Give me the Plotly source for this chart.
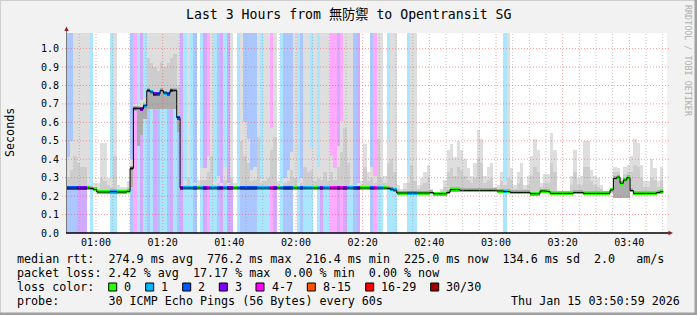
import plotly.graph_objects as go
from datetime import datetime, timedelta

# ---------------- data (one value per 60 s step) ----------------
# loss class: 0 -> 0, 1 -> 1, 2 -> 2, 3 -> 3, 4 -> 4-7
loss = [
    2, 2, 2, 3, 3, 3, 0, 1, 0, 0,
    0, 0, 0, 1, 1, 0, 0, 0, 0, 2,
    4, 1, 3, 1, 2, 1, 3, 2, 1, 1,
    2, 3, 1, 2, 3, 1, 1, 1, 2, 0,
    1, 3, 4, 1, 1, 2, 3, 1, 3, 3,
    0, 1, 2, 2, 2, 2, 2, 1, 1, 1,
    1, 4, 3, 0, 1, 2, 2, 2, 0, 1,
    2, 1, 1, 1, 0, 1, 3, 1, 1, 4,
    4, 3, 4, 3, 1, 1, 2, 3, 0, 0,
    0, 2, 4, 1, 1, 0, 1, 1, 1, 0,
    0, 0, 1, 1, 1, 0, 0, 0, 0, 0,
    0, 0, 0, 0, 0, 0, 0, 0, 0, 0,
    0, 0, 0, 0, 0, 0, 0, 0, 0, 0,
    0, 1, 0, 0, 0, 0, 0, 0, 0, 0,
    0, 0, 0, 0, 0, 0, 0, 0, 0, 0,
    0, 0, 0, 0, 0, 0, 0, 0, 0, 0,
    0, 0, 0, 0, 0, 0, 0, 0, 0, 0,
    0, 0, 0, 0, 0, 0, 0, 0, 0, 0,
]

median = [
    .244, .244, .244, .244, .244, .244, .244, .242, .236, .222,
    .222, .222, .222, .224, .224, .222, .222, .222, .226, .350,
    .676, .676, .672, .690, .772, .765, .752, .755, .772, .760,
    .755, .772, .773, .625, .244, .244, .244, .244, .244, .244,
    .244, .244, .244, .244, .244, .244, .244, .244, .244, .244,
    .244, .244, .244, .244, .244, .244, .244, .244, .244, .244,
    .244, .244, .244, .244, .244, .244, .244, .244, .244, .244,
    .244, .244, .244, .244, .244, .244, .244, .244, .244, .244,
    .244, .244, .244, .244, .244, .244, .244, .244, .244, .244,
    .244, .244, .244, .244, .244, .244, .242, .238, .232, .217,
    .217, .217, .217, .217, .217, .217, .217, .217, .217, .219,
    .213, .213, .213, .213, .220, .235, .235, .235, .231, .231,
    .231, .231, .231, .231, .231, .231, .231, .231, .231, .228,
    .228, .225, .225, .220, .220, .220, .220, .220, .220, .213,
    .213, .213, .228, .228, .225, .215, .215, .215, .215, .215,
    .215, .215, .219, .219, .219, .215, .215, .215, .215, .215,
    .215, .215, .215, .233, .296, .303, .270, .287, .300, .230,
    .215, .215, .215, .215, .215, .215, .215, .220, .224, None,
]

smoke_lo = [
    .240, .240, .240, .240, .240, .240, .240, .238, .232, .218,
    .218, .218, .218, .220, .220, .218, .218, .218, .222, .250,
    .660, .470, .530, .620, .670, .670, .670, .670, .670, .670,
    .670, .670, .670, .550, .240, .240, .240, .240, .240, .240,
    .240, .240, .240, .240, .240, .240, .240, .240, .240, .240,
    .240, .240, .240, .240, .240, .240, .240, .240, .240, .240,
    .240, .240, .240, .240, .240, .240, .240, .240, .240, .240,
    .240, .240, .240, .240, .240, .240, .240, .240, .240, .240,
    .240, .240, .240, .240, .240, .240, .240, .240, .240, .240,
    .240, .240, .240, .240, .240, .240, .238, .234, .228, .213,
    .213, .213, .213, .213, .213, .213, .213, .213, .213, .215,
    .209, .209, .209, .209, .216, .231, .231, .231, .227, .227,
    .227, .227, .227, .227, .227, .227, .227, .227, .227, .224,
    .224, .221, .221, .216, .216, .216, .216, .216, .216, .209,
    .209, .209, .224, .224, .221, .211, .211, .211, .211, .211,
    .211, .211, .215, .215, .215, .211, .211, .211, .211, .211,
    .211, .211, .211, .220, .190, .190, .190, .190, .190, .220,
    .211, .211, .211, .211, .211, .211, .211, .216, .220, None,
]

smoke_mid = [
    .30, .34, .42, .38, .36, .36, .26, .25, .25, .24,
    .30, .28, .26, .25, .42, .24, .24, .24, .25, .32,
    .69, .60, .62, .71, .95, .92, .90, .88, .93, .90,
    .92, .95, .97, .80, .25, .26, .30, .25, .26, .26,
    .29, .29, .33, .42, .26, .27, .25, .29, .25, .30,
    .25, .25, .50, .42, .38, .28, .29, .52, .27, .28,
    .30, .45, .52, .26, .25, .27, .28, .34, .30, .25,
    .27, .36, .33, .34, .28, .30, .29, .33, .28, .33,
    .29, .36, .44, .57, .38, .26, .25, .25, .26, .36,
    .28, .30, .27, .51, .30, .27, .38, .40, .33, .24,
    .23, .24, .27, .37, .28, .24, .26, .27, .30, .23,
    .22, .22, .23, .25, .33, .35, .31, .36, .34, .31,
    .29, .27, .30, .40, .38, .27, .29, .30, .24, .24,
    .28, .26, .30, .29, .24, .27, .30, .24, .26, .31,
    .36, .33, .25, .27, .27, .38, .33, .22, .22, .22,
    .22, .26, .33, .26, .26, .36, .36, .28, .26, .25,
    .24, .22, .22, .23, .33, .33, .28, .32, .33, .33,
    .37, .36, .30, .25, .25, .30, .29, .25, .29, None,
]

smoke_hi = [
    .41, .50, 1.1, 1.1, 1.1, 1.1, 1.1, .26, .27, .27,
    .49, .49, .30, .30, 1.1, .26, .25, .25, .28, .40,
    .70, .70, .72, .73, 1.1, 1.1, 1.1, 1.1, 1.1, 1.1,
    1.1, 1.1, 1.1, 1.1, .26, .28, 1.1, .26, .27, .29,
    .35, .35, .42, 1.1, .28, .31, .27, .36, .27, 1.1,
    .27, .27, 1.1, .60, .51, .34, .36, 1.1, .30, 1.1,
    1.1, .57, 1.1, .28, .27, .30, .34, .44, 1.1, .27,
    .30, 1.1, 1.1, .46, 1.1, .36, 1.1, 1.1, 1.1, .42,
    .35, .47, .61, 1.1, 1.1, 1.1, .26, .27, .28, .48,
    .33, .36, .31, 1.1, 1.1, .31, .51, 1.1, 1.1, .26,
    .24, .27, .31, 1.1, 1.1, .26, .30, .33, .37, .24,
    .22, .22, .24, .29, .45, .48, .41, .50, .45, .40,
    .35, .31, .38, .56, .51, .31, .36, .38, .25, .26,
    .33, .28, 1.1, .35, .26, .33, .38, .26, .31, .42,
    .51, .45, .27, .32, .32, .54, .45, .22, .22, .22,
    .22, .31, .45, .30, .31, .50, .50, .34, .31, .30,
    .26, .22, .22, .24, .36, .35, .30, .36, .37, .42,
    .51, .49, .37, .28, .28, .40, .35, .28, .36, None,
]

y_ticks = [0.0, 0.1, 0.2, 0.3, 0.4, 0.5, 0.6, 0.7, 0.8, 0.9, 1.0]
loss_labels = ["0", "1", "2", "3", "4-7", "8-15", "16-29", "30/30"]
loss_colors = ["#26ff00", "#00b8ff", "#0059ff", "#7e00ff", "#ff00ff",
               "#ff5500", "#ff0000", "#a10000"]
band_colors = {1: "#aae7ff", 2: "#aac8ff", 3: "#d4aaff", 4: "#ffaaff"}

# ---------------- geometry helpers ----------------
W, H = 697, 315
PL, PR, PT, PB = 67, 667, 33, 233
def pxx(px):
    return (px - PL) / (PR - PL)
def pxy(py):
    return (PB - py) / (PB - PT)

N = len(median)
STEP = timedelta(seconds=60)
T0 = datetime(2026, 1, 15, 0, 51, 13)
starts = [T0 + STEP * k for k in range(N)]
centers = [s + STEP / 2 for s in starts]
X_MIN = datetime(2026, 1, 15, 0, 51, 18)
X_MAX = X_MIN + timedelta(hours=3)
Y_MAX = 1.0846
TOP = 1.2
WMS = 60000

def diff(a, b):
    return [None if (x is None or y is None) else x - y for x, y in zip(a, b)]

def bars(base, height, color):
    return go.Bar(x=centers, y=height, base=base, width=[WMS] * N,
                  marker=dict(color=color, line=dict(width=0)),
                  showlegend=False, hoverinfo="skip")

fig = go.Figure()

# loss background bands
fig.add_trace(bars([0] * N, [TOP if l > 0 else None for l in loss],
                   [band_colors.get(l, "rgba(0,0,0,0)") for l in loss]))
# smoke
fig.add_trace(bars(smoke_lo, diff(smoke_hi, smoke_lo), "#dedede"))
fig.add_trace(bars(smoke_lo, diff(smoke_mid, smoke_lo), "#cdcdcd"))
dark_top = [None if m is None else m + 0.012 for m in median]
fig.add_trace(bars(smoke_lo, diff(dark_top, smoke_lo), "#acacac"))

# median black line
valid = [i for i, m in enumerate(median) if m is not None]
lx = [starts[i] for i in valid] + [starts[valid[-1]] + STEP]
ly = [median[i] for i in valid] + [median[valid[-1]]]
fig.add_trace(go.Scatter(x=lx, y=ly, mode="lines",
                         line=dict(color="black", width=1, shape="hv"),
                         showlegend=False, hoverinfo="skip"))
# median coloured by loss
fig.add_trace(bars([None if m is None else m - 0.010 for m in median],
                   [None if m is None else 0.020 for m in median],
                   [loss_colors[l] for l in loss]))

# ---------------- grid, axes, frame ----------------
shapes = []
t = datetime(2026, 1, 15, 0, 55)
while t < X_MAX:
    major = (t.minute % 20 == 0)
    shapes.append(dict(type="line", xref="x", yref="paper", x0=t, x1=t, y0=0, y1=1,
                       layer="above",
                       line=dict(color="rgba(240,80,80,0.55)" if major else "rgba(150,150,150,0.55)",
                                 width=1, dash="1px,2px")))
    t += timedelta(minutes=5)
for v in y_ticks[1:]:
    shapes.append(dict(type="line", xref="paper", yref="y", x0=pxx(62), x1=pxx(669), y0=v, y1=v,
                       layer="above",
                       line=dict(color="rgba(240,80,80,0.55)", width=1, dash="1px,2px")))
# axes lines + arrows
shapes.append(dict(type="line", xref="paper", yref="paper", x0=pxx(66.5), x1=pxx(66.5),
                   y0=pxy(233), y1=pxy(30), line=dict(color="#777777", width=1), layer="above"))
shapes.append(dict(type="line", xref="paper", yref="paper", x0=pxx(66), x1=pxx(669),
                   y0=pxy(233), y1=pxy(233), line=dict(color="black", width=1.5), layer="above"))
shapes.append(dict(type="path", xref="paper", yref="paper", layer="above",
                   path=f"M {pxx(64.3)} {pxy(31)} L {pxx(68.7)} {pxy(31)} L {pxx(66.5)} {pxy(26.5)} Z",
                   fillcolor="#9b1c1c", line=dict(width=0)))
shapes.append(dict(type="path", xref="paper", yref="paper", layer="above",
                   path=f"M {pxx(668.5)} {pxy(230.8)} L {pxx(668.5)} {pxy(235.2)} L {pxx(673)} {pxy(233)} Z",
                   fillcolor="#9b1c1c", line=dict(width=0)))
# 3D frame
shapes.append(dict(type="rect", xref="paper", yref="paper", x0=pxx(0), x1=pxx(697), y0=pxy(0), y1=pxy(1),
                   fillcolor="#cfcfcf", line=dict(width=0)))
shapes.append(dict(type="rect", xref="paper", yref="paper", x0=pxx(0), x1=pxx(1), y0=pxy(0), y1=pxy(315),
                   fillcolor="#cfcfcf", line=dict(width=0)))
shapes.append(dict(type="rect", xref="paper", yref="paper", x0=pxx(0), x1=pxx(697), y0=pxy(312.5), y1=pxy(315),
                   fillcolor="#a0a0a0", line=dict(width=0)))
shapes.append(dict(type="rect", xref="paper", yref="paper", x0=pxx(694.5), x1=pxx(697), y0=pxy(0), y1=pxy(315),
                   fillcolor="#a0a0a0", line=dict(width=0)))

# ---------------- texts ----------------
MONO = "DejaVu Sans Mono, Noto Sans CJK SC, monospace"
def nb(s):
    return s.replace(" ", "\u00a0")

ann = []
def text(px, py, s, size=11.7, anchor="left", color="black", angle=0):
    ann.append(dict(text=nb(s), x=pxx(px), y=pxy(py), xref="paper", yref="paper",
                    xanchor=anchor, yanchor="middle", showarrow=False, textangle=angle,
                    font=dict(family=MONO, size=size, color=color), borderpad=0))

text(348.5, 14, "Last 3 Hours from 無防禦 to Opentransit SG", size=13.2, anchor="center")
text(10, 133, "Seconds", size=11.7, anchor="center", angle=-90)
text(688, 61, "RRDTOOL / TOBI OETIKER", size=8.4, anchor="center", color="#b0b0b0", angle=90)
text(16, 259.3, "median rtt:  274.9 ms avg  776.2 ms max  216.4 ms min  225.0 ms now  134.6 ms sd  2.0   am/s")
text(16, 273.3, "packet loss: 2.42 % avg  17.17 % max  0.00 % min  0.00 % now")
text(16, 287.0, "loss color:")
text(16, 301.0, "probe:       30 ICMP Echo Pings (56 Bytes) every 60s")
text(680.5, 301.0, "Thu Jan 15 03:50:59 2026", anchor="right")

box_x = [108.7, 145.7, 182.7, 219.3, 256.0, 307.3, 365.7, 430.7]
for bx, lab, col in zip(box_x, loss_labels, loss_colors):
    shapes.append(dict(type="rect", xref="paper", yref="paper",
                       x0=pxx(bx), x1=pxx(bx + 8), y0=pxy(283), y1=pxy(291),
                       fillcolor=col, line=dict(color="black", width=1)))
    text(bx + 14.7, 287.0, lab)

major_ticks = [datetime(2026, 1, 15, 1, 0) + timedelta(minutes=20 * i) for i in range(9)]

fig.update_layout(
    width=W, height=H,
    margin=dict(l=PL, r=W - PR, t=PT, b=H - PB, pad=0),
    paper_bgcolor="#f2f2f2", plot_bgcolor="white",
    barmode="overlay", bargap=0,
    showlegend=False,
    shapes=shapes, annotations=ann,
    xaxis=dict(type="date", range=[X_MIN, X_MAX], showgrid=False, zeroline=False,
               tickmode="array", tickvals=major_ticks,
               ticktext=[d.strftime("%H:%M") for d in major_ticks],
               ticks="", ticklabelstandoff=2,
               tickfont=dict(family=MONO, size=10, color="black"),
               showline=False, fixedrange=True),
    yaxis=dict(range=[0, Y_MAX], showgrid=False, zeroline=False,
               tickmode="array", tickvals=y_ticks,
               ticktext=[f"{v:.1f}" for v in y_ticks],
               ticks="", ticklabelstandoff=7,
               tickfont=dict(family=MONO, size=10, color="black"),
               showline=False, fixedrange=True),
)

fig.write_html("out.html")
